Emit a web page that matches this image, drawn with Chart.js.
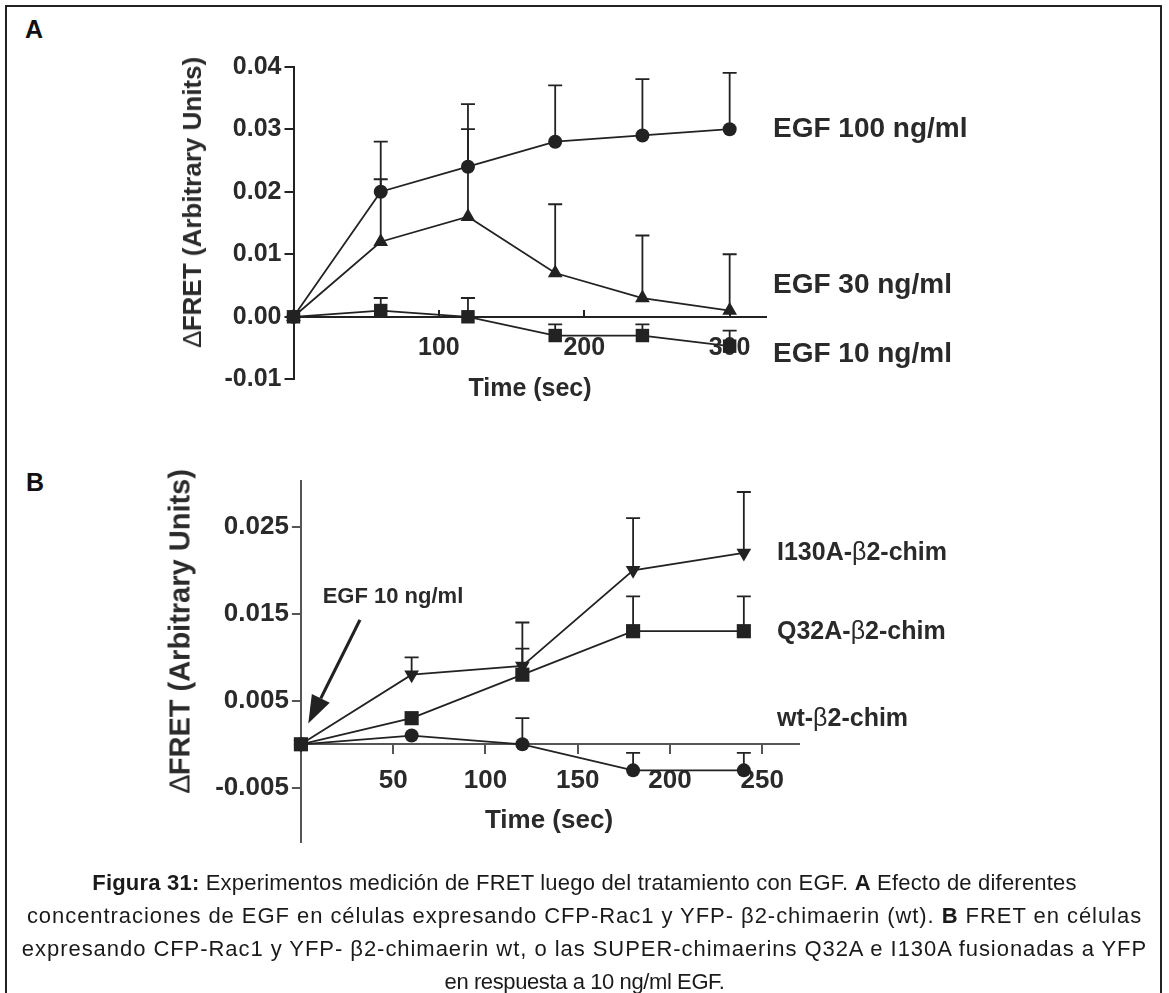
<!DOCTYPE html>
<html>
<head>
<meta charset="utf-8">
<script src="https://cdn.jsdelivr.net/npm/chart.js@4.4.1/dist/chart.umd.min.js"></script>
<style>
    html, body { margin: 0; padding: 0; background: #fff; }
    body { width: 1169px; height: 993px; position: relative; overflow: hidden; font-family: 'Liberation Sans', Arial, sans-serif; color: #2a2a2a; }
    .frame { position: absolute; left: 5px; top: 5px; width: 1153px; height: 1100px; border: 2px solid #222; }
    canvas { position: absolute; left: 0; }
    .txt { position: absolute; line-height: 1; white-space: nowrap; font-weight: bold; transform: translateY(-50%); }
    .ytitle { position: absolute; line-height: 1; white-space: nowrap; font-weight: bold; transform: translate(-50%, -50%) rotate(-90deg); }
    .xtitle { position: absolute; line-height: 1; white-space: nowrap; font-weight: bold; transform: translate(-50%, -50%); }
    .caption { position: absolute; left: 0; width: 1169px; top: 866px; text-align: center; font-size: 22px; line-height: 33px; font-weight: normal; color: #1a1a1a; }
    .caption div { white-space: nowrap; }
</style>
</head>
<body>
<div class="frame"></div>

<div class="txt" style="left:25px; top:29px; font-size:25px; color:#111;">A</div>
<div class="txt" style="left:26px; top:482px; font-size:25px; color:#111;">B</div>

<canvas id="chart-a" width="1169" height="430" style="top:0"></canvas>
<canvas id="chart-b" width="1169" height="440" style="top:440px"></canvas>

<div class="ytitle" style="left:192px; top:202px; font-size:26px;"><span style="font-weight:normal">∆</span>FRET (Arbitrary Units)</div>
<div class="xtitle" style="left:530px; top:387px; font-size:25px;">Time (sec)</div>
<div class="ytitle" style="left:180px; top:631px; font-size:29px;"><span style="font-weight:normal">∆</span>FRET (Arbitrary Units)</div>
<div class="xtitle" style="left:549px; top:819px; font-size:26px;">Time (sec)</div>

<div class="txt" style="left:773px; top:128px; font-size:28px;">EGF 100 ng/ml</div>
<div class="txt" style="left:773px; top:284px; font-size:28px;">EGF 30 ng/ml</div>
<div class="txt" style="left:773px; top:353px; font-size:28px;">EGF 10 ng/ml</div>

<div class="txt" style="left:777px; top:551px; font-size:25px;">I130A-<span style="font-weight:normal">β</span>2-chim</div>
<div class="txt" style="left:777px; top:630px; font-size:25px;">Q32A-<span style="font-weight:normal">β</span>2-chim</div>
<div class="txt" style="left:777px; top:717px; font-size:25px;">wt-<span style="font-weight:normal">β</span>2-chim</div>

<div class="caption">
    <div style="letter-spacing:0.2px"><b>Figura 31:</b> Experimentos medición de FRET luego del tratamiento con EGF. <b>A</b> Efecto de diferentes</div>
    <div style="letter-spacing:0.95px">concentraciones de EGF en células expresando CFP-Rac1 y YFP- β2-chimaerin (wt). <b>B</b> FRET en células</div>
    <div style="letter-spacing:0.95px">expresando CFP-Rac1 y YFP- β2-chimaerin wt, o las SUPER-chimaerins Q32A e I130A fusionadas a YFP</div>
    <div style="letter-spacing:-0.4px">en respuesta a 10 ng/ml EGF.</div>
</div>

<script>
// Panel A: EGF dose series (time in sec)
const timeA = [0, 60, 120, 180, 240, 300];
const egf100 = [0, 0.020, 0.024, 0.028, 0.029, 0.030];
const egf100Err = [0, 0.008, 0.010, 0.009, 0.009, 0.009];
const egf30 = [0, 0.012, 0.016, 0.007, 0.003, 0.001];
const egf30Err = [0, 0.010, 0.014, 0.011, 0.010, 0.009];
const egf10 = [0, 0.001, 0, -0.003, -0.003, -0.0047];
const egf10Err = [0, 0.002, 0.003, 0.0018, 0.0018, 0.0025];
const ticksAx = [100, 200, 300];
const ticksAy = [-0.01, 0, 0.01, 0.02, 0.03, 0.04];

// Panel B: chimaerin mutants with EGF 10 ng/ml
const timeB = [0, 60, 120, 180, 240];
const i130a = [0, 0.008, 0.009, 0.020, 0.022];
const i130aErr = [0, 0.002, 0.005, 0.006, 0.007];
const q32a = [0, 0.003, 0.008, 0.013, 0.013];
const q32aErr = [0, 0, 0.003, 0.004, 0.004];
const wt = [0, 0.001, 0, -0.003, -0.003];
const wtErr = [0, 0, 0.003, 0.002, 0.002];
const ticksBx = [50, 100, 150, 200, 250];
const ticksBy = [-0.005, 0.005, 0.015, 0.025];

// arrow annotation in data units: [time, value]
const arrowFrom = [32, 0.0143];
const arrowTo = [4, 0.0024];
const arrowLabel = { x: 11.8, y: 0.0169, text: 'EGF 10 ng/ml' };

Chart.defaults.font.family = "'Liberation Sans', Arial, sans-serif";
Chart.defaults.color = '#2a2a2a';

const toXY = (xs, ys) => xs.map((x, i) => ({ x: x, y: ys[i] }));

// one-sided (upper) SEM bars, drawn under the markers
const errorBars = {
    id: 'errorBars',
    beforeDatasetsDraw(chart) {
        const { ctx, scales: { x, y } } = chart;
        ctx.save();
        ctx.strokeStyle = '#222';
        ctx.lineWidth = 1.8;
        chart.data.datasets.forEach(ds => {
            ds.data.forEach((p, i) => {
                const e = ds.errors[i];
                if (!e) return;
                const px = x.getPixelForValue(p.x);
                const py = y.getPixelForValue(p.y);
                const pt = y.getPixelForValue(p.y + e);
                ctx.beginPath();
                ctx.moveTo(px, py);
                ctx.lineTo(px, pt);
                ctx.moveTo(px - 7, pt);
                ctx.lineTo(px + 7, pt);
                ctx.stroke();
            });
        });
        ctx.restore();
    }
};

const arrow = {
    id: 'arrow',
    afterDatasetsDraw(chart, args, opts) {
        if (!opts.show) return;
        const { ctx, scales: { x, y } } = chart;
        const x1 = x.getPixelForValue(arrowFrom[0]), y1 = y.getPixelForValue(arrowFrom[1]);
        const x2 = x.getPixelForValue(arrowTo[0]), y2 = y.getPixelForValue(arrowTo[1]);
        const ang = Math.atan2(y2 - y1, x2 - x1);
        const head = 28, half = 10;
        const bx = x2 - head * Math.cos(ang), by = y2 - head * Math.sin(ang);
        ctx.save();
        ctx.strokeStyle = '#222';
        ctx.fillStyle = '#222';
        ctx.lineWidth = 3.2;
        ctx.beginPath();
        ctx.moveTo(x1, y1);
        ctx.lineTo(bx, by);
        ctx.stroke();
        ctx.beginPath();
        ctx.moveTo(x2, y2);
        ctx.lineTo(bx + half * Math.sin(ang), by - half * Math.cos(ang));
        ctx.lineTo(bx - half * Math.sin(ang), by + half * Math.cos(ang));
        ctx.closePath();
        ctx.fill();
        ctx.font = "bold 22px 'Liberation Sans', Arial, sans-serif";
        ctx.fillStyle = '#2a2a2a';
        ctx.textBaseline = 'middle';
        ctx.fillText(arrowLabel.text, x.getPixelForValue(arrowLabel.x), y.getPixelForValue(arrowLabel.y));
        ctx.restore();
    }
};

function series(label, xs, ys, errs, style, radius, rotation) {
    return {
        label: label,
        data: toXY(xs, ys),
        errors: errs,
        borderColor: '#222',
        backgroundColor: '#222',
        borderWidth: 1.8,
        pointStyle: style,
        pointRadius: radius,
        pointHoverRadius: radius,
        pointRotation: rotation || 0,
        pointBorderWidth: 0,
        tension: 0,
        clip: false
    };
}

function buildChart(id, cfg) {
    return new Chart(document.getElementById(id), {
        type: 'line',
        data: { datasets: cfg.datasets },
        options: {
            responsive: false,
            devicePixelRatio: 1,
            animation: false,
            layout: { padding: cfg.padding },
            plugins: { legend: { display: false }, tooltip: { enabled: false }, arrow: { show: cfg.arrow } },
            scales: {
                x: {
                    type: 'linear',
                    position: { y: 0 },
                    min: 0,
                    max: cfg.xMax,
                    afterBuildTicks: s => { s.ticks = cfg.xTicks.map(v => ({ value: v })); },
                    grid: { drawOnChartArea: false, tickLength: cfg.xTickLen, color: cfg.axisColor, lineWidth: 2 },
                    border: { color: cfg.axisColor, width: 2 },
                    ticks: { padding: cfg.xTickPad, font: { size: cfg.tickSize, weight: 'bold' }, maxRotation: 0 }
                },
                y: {
                    type: 'linear',
                    position: 'left',
                    min: cfg.yMin,
                    max: cfg.yMax,
                    afterFit: s => { s.width = cfg.yWidth; },
                    afterBuildTicks: s => { s.ticks = cfg.yTicks.map(v => ({ value: v })); },
                    grid: { drawOnChartArea: false, tickLength: 9, color: cfg.axisColor, lineWidth: 2 },
                    border: { color: cfg.axisColor, width: 2 },
                    ticks: { padding: 3, font: { size: cfg.tickSize, weight: 'bold' }, callback: v => v.toFixed(cfg.decimals) }
                }
            }
        },
        plugins: [errorBars, arrow]
    });
}

buildChart('chart-a', {
    datasets: [
        series('EGF 10 ng/ml', timeA, egf10, egf10Err, 'rect', 9.5),
        series('EGF 30 ng/ml', timeA, egf30, egf30Err, 'triangle', 8.5),
        series('EGF 100 ng/ml', timeA, egf100, egf100Err, 'circle', 7)
    ],
    padding: { left: 0, top: 66.7, right: 403, bottom: 50.7 },
    xMax: 325, yMin: -0.01, yMax: 0.04,
    xTicks: ticksAx, yTicks: ticksAy,
    xTickLen: -8, xTickPad: 24,
    yWidth: 293.5, tickSize: 25, decimals: 2,
    axisColor: '#222', arrow: false
});

buildChart('chart-b', {
    datasets: [
        series('Q32A', timeB, q32a, q32aErr, 'rect', 10),
        series('I130A', timeB, i130a, i130aErr, 'triangle', 8.5, 180),
        series('wt', timeB, wt, wtErr, 'circle', 7)
    ],
    padding: { left: 0, top: 40.7, right: 369.8, bottom: 38.3 },
    xMax: 270, yMin: -0.0112, yMax: 0.0303,
    xTicks: ticksBx, yTicks: ticksBy,
    xTickLen: 9, xTickPad: 12,
    yWidth: 300.9, tickSize: 26, decimals: 3,
    axisColor: '#555', arrow: true
});
</script>
</body>
</html>
